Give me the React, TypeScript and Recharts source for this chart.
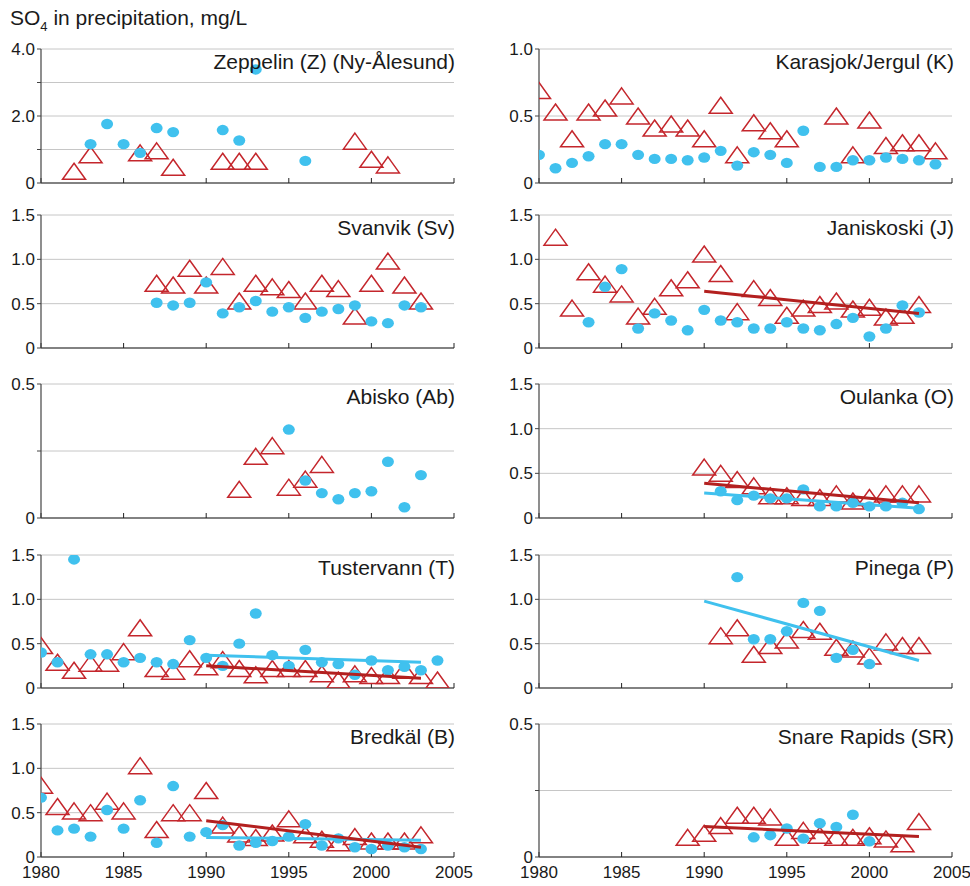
import { CartesianGrid, Scatter, ScatterChart, XAxis, YAxis } from "recharts";

const BLUE = "#40c1ee";
const RED = "#c4262c";
const TREND_RED = "#b3201f";

const yearTicks = [1980, 1985, 1990, 1995, 2000, 2005];

// dots = filled blue circles, tris = open red triangles
const zeppelinDots = [[1983, 1.16], [1984, 1.76], [1985, 1.16], [1986, 0.9], [1987, 1.64], [1988, 1.52], [1991, 1.58], [1992, 1.27], [1993, 3.39], [1996, 0.66]];
const zeppelinTris = [[1982, 0.35], [1983, 0.84], [1986, 0.9], [1987, 0.96], [1988, 0.47], [1991, 0.65], [1992, 0.65], [1993, 0.65], [1999, 1.25], [2000, 0.71], [2001, 0.54]];

const karasjokDots = [0.21, 0.11, 0.15, 0.2, 0.29, 0.29, 0.21, 0.18, 0.18, 0.17, 0.19, 0.24, 0.13, 0.23, 0.21, 0.15, 0.39, 0.12, 0.12, 0.17, 0.17, 0.19, 0.18, 0.17, 0.14];
const karasjokTris = [[1980, 0.69], [1981, 0.53], [1982, 0.33], [1983, 0.53], [1984, 0.56], [1985, 0.65], [1986, 0.5], [1987, 0.41], [1988, 0.44], [1989, 0.41], [1990, 0.33], [1991, 0.58], [1992, 0.21], [1993, 0.45], [1994, 0.39], [1995, 0.33], [1998, 0.5], [1999, 0.21], [2000, 0.47], [2001, 0.28], [2002, 0.3], [2003, 0.3], [2004, 0.24]];

const svanvikDots = [0.51, 0.48, 0.51, 0.74, 0.39, 0.46, 0.53, 0.41, 0.46, 0.34, 0.41, 0.44, 0.48, 0.3, 0.28, 0.48, 0.46];
const svanvikTris = [0.73, 0.71, 0.9, 0.71, 0.92, 0.53, 0.73, 0.69, 0.66, 0.53, 0.73, 0.67, 0.36, 0.73, 0.98, 0.71, 0.53];

const janiskoskiDots = [0.29, 0.69, 0.89, 0.22, 0.39, 0.31, 0.2, 0.43, 0.31, 0.29, 0.22, 0.22, 0.29, 0.22, 0.2, 0.27, 0.34, 0.13, 0.22, 0.48, 0.4];
const janiskoskiTris = [1.25, 0.45, 0.86, 0.72, 0.61, 0.36, 0.47, 0.68, 0.77, 1.06, 0.84, 0.41, 0.67, 0.57, 0.37, 0.45, 0.49, 0.53, 0.44, 0.46, 0.35, 0.37, 0.49];
const janiskoskiTrendRed = [[1990, 0.64], [2003, 0.39]];

const abiskoDots = [0.33, 0.14, 0.093, 0.07, 0.093, 0.1, 0.21, 0.04, 0.16];
const abiskoTris = [0.107, 0.23, 0.27, 0.115, 0.145, 0.2];

const oulankaDots = [0.3, 0.2, 0.25, 0.22, 0.22, 0.32, 0.13, 0.13, 0.17, 0.13, 0.13, 0.17, 0.1];
const oulankaTris = [0.57, 0.5, 0.43, 0.36, 0.25, 0.25, 0.23, 0.23, 0.27, 0.19, 0.23, 0.27, 0.27, 0.27];
const oulankaTrendRed = [[1990, 0.39], [2003, 0.17]];
const oulankaTrendBlue = [[1990, 0.28], [2003, 0.11]];

const tustervannDots = [0.4, 0.29, 1.45, 0.38, 0.38, 0.29, 0.34, 0.29, 0.27, 0.54, 0.34, 0.25, 0.5, 0.84, 0.37, 0.25, 0.43, 0.29, 0.27, 0.15, 0.31, 0.2, 0.24, 0.2, 0.31];
const tustervannTris = [0.48, 0.29, 0.2, 0.28, 0.28, 0.41, 0.68, 0.22, 0.19, 0.33, 0.24, 0.32, 0.22, 0.15, 0.22, 0.22, 0.22, 0.16, 0.09, 0.16, 0.14, 0.14, 0.2, 0.14, 0.09];
const tustervannTrendRed = [[1990, 0.25], [2003, 0.11]];
const tustervannTrendBlue = [[1990, 0.37], [2003, 0.29]];

const pinegaDots = [1.25, 0.55, 0.55, 0.64, 0.96, 0.87, 0.34, 0.43, 0.27];
const pinegaTris = [0.59, 0.68, 0.38, 0.48, 0.54, 0.66, 0.64, 0.46, 0.44, 0.36, 0.52, 0.48, 0.48];
const pinegaTrendBlue = [[1990, 0.98], [2003, 0.31]];

const bredkalDots = [0.67, 0.3, 0.32, 0.23, 0.53, 0.32, 0.64, 0.16, 0.8, 0.23, 0.28, 0.36, 0.13, 0.16, 0.18, 0.23, 0.37, 0.13, 0.21, 0.11, 0.09, 0.13, 0.11, 0.09];
const bredkalTris = [0.81, 0.57, 0.52, 0.5, 0.63, 0.52, 1.03, 0.31, 0.5, 0.5, 0.75, 0.36, 0.26, 0.22, 0.27, 0.43, 0.25, 0.2, 0.16, 0.23, 0.18, 0.18, 0.18, 0.25];
const bredkalTrendRed = [[1990, 0.41], [2003, 0.11]];
const bredkalTrendBlue = [[1990, 0.22], [2003, 0.19]];

const snareDots = [0.074, 0.082, 0.107, 0.069, 0.127, 0.113, 0.159, 0.059];
const snareTris = [0.074, 0.089, 0.118, 0.157, 0.157, 0.15, 0.074, 0.1, 0.082, 0.074, 0.074, 0.08, 0.068, 0.05, 0.133];
const snareTrendRed = [[1990, 0.115], [2003, 0.077]];

const fromYear = (start: number, values: number[]) => values.map((y, i) => ({ x: start + i, y }));
const fromPairs = (pairs: number[][]) => pairs.map(([x, y]) => ({ x, y }));

const ticks15 = [0, 0.5, 1, 1.5];
const ticks05 = [0, 0.25, 0.5];

const panels = [
  { title: "Zeppelin (Z) (Ny-Ålesund)", col: 0, row: 0, max: 4, ticks: [0, 1, 2, 3, 4], labels: [0, 2, 4], dots: fromPairs(zeppelinDots), tris: fromPairs(zeppelinTris) },
  { title: "Karasjok/Jergul (K)", col: 1, row: 0, max: 1, ticks: [0, 0.5, 1], labels: [0, 0.5, 1], dots: fromYear(1980, karasjokDots), tris: fromPairs(karasjokTris) },
  { title: "Svanvik (Sv)", col: 0, row: 1, max: 1.5, ticks: ticks15, labels: ticks15, dots: fromYear(1987, svanvikDots), tris: fromYear(1987, svanvikTris) },
  { title: "Janiskoski (J)", col: 1, row: 1, max: 1.5, ticks: ticks15, labels: ticks15, dots: fromYear(1983, janiskoskiDots), tris: fromYear(1981, janiskoskiTris), red: fromPairs(janiskoskiTrendRed) },
  { title: "Abisko (Ab)", col: 0, row: 2, max: 0.5, ticks: ticks05, labels: [0, 0.5], dots: fromYear(1995, abiskoDots), tris: fromYear(1992, abiskoTris) },
  { title: "Oulanka (O)", col: 1, row: 2, max: 1.5, ticks: ticks15, labels: ticks15, dots: fromYear(1991, oulankaDots), tris: fromYear(1990, oulankaTris), red: fromPairs(oulankaTrendRed), blue: fromPairs(oulankaTrendBlue) },
  { title: "Tustervann (T)", col: 0, row: 3, max: 1.5, ticks: ticks15, labels: ticks15, dots: fromYear(1980, tustervannDots), tris: fromYear(1980, tustervannTris), red: fromPairs(tustervannTrendRed), blue: fromPairs(tustervannTrendBlue) },
  { title: "Pinega (P)", col: 1, row: 3, max: 1.5, ticks: ticks15, labels: ticks15, dots: fromYear(1992, pinegaDots), tris: fromYear(1991, pinegaTris), blue: fromPairs(pinegaTrendBlue) },
  { title: "Bredkäl (B)", col: 0, row: 4, max: 1.5, ticks: ticks15, labels: ticks15, dots: fromYear(1980, bredkalDots), tris: fromYear(1980, bredkalTris), red: fromPairs(bredkalTrendRed), blue: fromPairs(bredkalTrendBlue) },
  { title: "Snare Rapids (SR)", col: 1, row: 4, max: 0.5, ticks: ticks05, labels: [0, 0.5], dots: fromYear(1993, snareDots), tris: fromYear(1989, snareTris), red: fromPairs(snareTrendRed) },
];

const plotTops = [49, 215, 384, 555, 724];
const plotBottoms = [183, 348, 518, 688, 857];
const colLeft = [0, 498];
const titleRight = [455, 954];

const DotShape = (p: any) =>
  p.cx == null ? <g /> : <ellipse cx={p.cx} cy={p.cy} rx={6} ry={5.2} fill={BLUE} />;

const TriShape = (p: any) =>
  p.cx == null ? <g /> : (
    <polygon
      points={`${p.cx},${p.cy - 8} ${p.cx + 11.5},${p.cy + 8} ${p.cx - 11.5},${p.cy + 8}`}
      fill="none"
      stroke={RED}
      strokeWidth={1.5}
    />
  );

const NoShape = () => <g />;

function Panel({ p }: { p: any }) {
  const top = plotTops[p.row];
  const plotH = plotBottoms[p.row] - top;
  const bottomRow = p.row === 4;
  return (
    <div style={{ position: "absolute", left: colLeft[p.col], top: top - 10 }}>
      <ScatterChart width={486} height={plotH + 40} margin={{ top: 10, right: 32, bottom: 0, left: 0 }}>
        <CartesianGrid vertical={false} stroke="#c6c6c6" />
        <XAxis
          type="number"
          dataKey="x"
          domain={[1980, 2005]}
          ticks={yearTicks}
          allowDataOverflow
          height={30}
          tickSize={-5}
          tickMargin={14}
          axisLine={{ stroke: "#222", strokeWidth: 1.2 }}
          tickLine={{ stroke: "#222" }}
          tick={{ fontSize: 17, fill: "#1a1a1a" }}
          tickFormatter={(v: number) => (bottomRow ? String(v) : "")}
        />
        <YAxis
          type="number"
          dataKey="y"
          domain={[0, p.max]}
          ticks={p.ticks}
          allowDataOverflow
          width={41}
          tickSize={4}
          tickMargin={2}
          axisLine={{ stroke: "#444", strokeWidth: 1.2 }}
          tickLine={{ stroke: "#444" }}
          tick={{ fontSize: 17, fill: "#1a1a1a" }}
          tickFormatter={(v: number) => (v === 0 ? "0" : p.labels.includes(v) ? v.toFixed(1) : "")}
        />
        <Scatter data={p.tris} shape={TriShape} isAnimationActive={false} />
        <Scatter data={p.dots} shape={DotShape} isAnimationActive={false} />
        {p.blue && (
          <Scatter data={p.blue} shape={NoShape} line={{ stroke: BLUE, strokeWidth: 3 }} isAnimationActive={false} />
        )}
        {p.red && (
          <Scatter data={p.red} shape={NoShape} line={{ stroke: TREND_RED, strokeWidth: 3 }} isAnimationActive={false} />
        )}
      </ScatterChart>
    </div>
  );
}

export default function App() {
  return (
    <div
      style={{
        position: "absolute",
        left: 0,
        top: 0,
        width: 970,
        height: 886,
        background: "#fff",
        fontFamily: '"Liberation Sans", Arial, sans-serif',
        overflow: "hidden",
      }}
    >
      {panels.map((p) => (
        <Panel key={p.title} p={p} />
      ))}
      <svg width={970} height={886} style={{ position: "absolute", left: 0, top: 0, pointerEvents: "none" }}>
        <text x={10} y={25} fontSize={21} fill="#1a1a1a">
          SO
          <tspan dy={6} fontSize={13}>4</tspan>
          <tspan dy={-6}> in precipitation, mg/L</tspan>
        </text>
        {panels.map((p) => (
          <text key={p.title} x={titleRight[p.col]} y={plotTops[p.row] + 20} textAnchor="end" fontSize={21} fill="#1a1a1a">
            {p.title}
          </text>
        ))}
      </svg>
    </div>
  );
}
